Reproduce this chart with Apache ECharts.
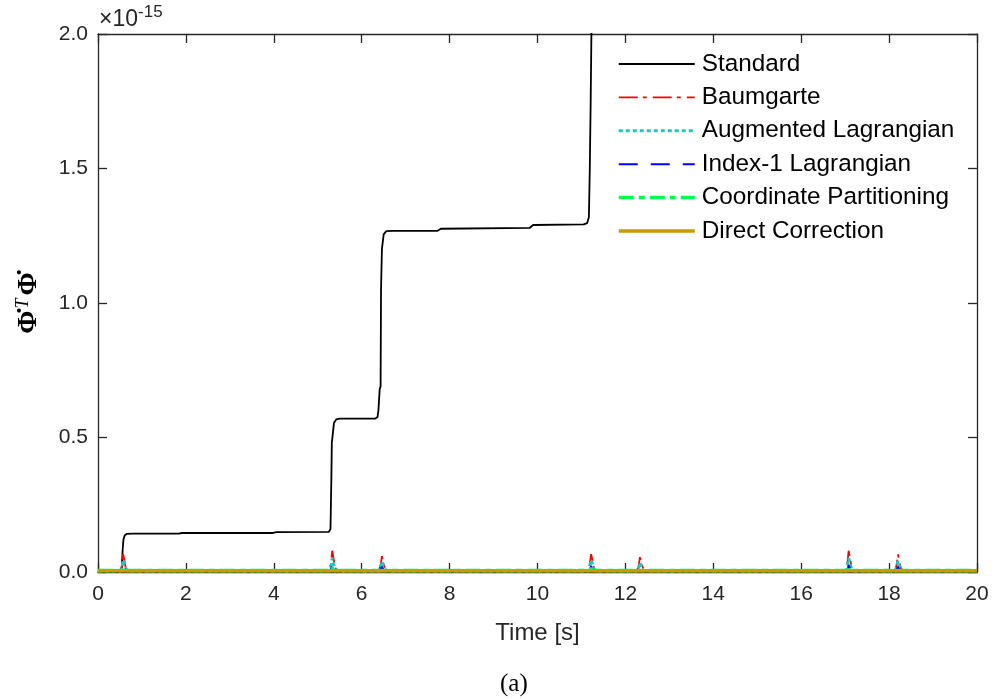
<!DOCTYPE html>
<html>
<head>
<meta charset="utf-8">
<script src="https://cdn.jsdelivr.net/npm/echarts@6/dist/echarts.min.js"></script>
<style>
  html, body { margin: 0; padding: 0; background: #fff; }
  #main { width: 996px; height: 699px; }
</style>
</head>
<body>
<div id="main"></div>
<script>
var myChart = echarts.init(document.getElementById('main'));

// values in units of 1e-15, time in seconds
var seriesNames = ['Standard', 'Baumgarte', 'Augmented Lagrangian', 'Index-1 Lagrangian', 'Coordinate Partitioning', 'Direct Correction'];
var xTicks = [0, 2, 4, 6, 8, 10, 12, 14, 16, 18, 20];
var yTicks = [0.0, 0.5, 1.0, 1.5, 2.0];

var standard = [
    [0, 0], [0.5, 0], [0.54, 0.01], [0.56, 0.08], [0.58, 0.122], [0.61, 0.137], [0.66, 0.142], [0.8, 0.143],
    [1.84, 0.143], [1.87, 0.137], [1.91, 0.145], [1.95, 0.144], [3.98, 0.145], [4.02, 0.149], [4.06, 0.148],
    [5.25, 0.149], [5.29, 0.16], [5.31, 0.35], [5.32, 0.48], [5.34, 0.51], [5.37, 0.555], [5.42, 0.567],
    [5.5, 0.57], [6.3, 0.57], [6.36, 0.576], [6.38, 0.6], [6.41, 0.68], [6.43, 0.69], [6.44, 1.05],
    [6.46, 1.2], [6.5, 1.255], [6.56, 1.267], [6.7, 1.268], [7.72, 1.268], [7.76, 1.263], [7.8, 1.276],
    [9.82, 1.279], [9.86, 1.274], [9.9, 1.29], [11.05, 1.292], [11.13, 1.297], [11.17, 1.32], [11.19, 1.5],
    [11.21, 1.75], [11.23, 2.05], [11.25, 2.3]
];
var baumgarte = [
    [0, 0.004], [0.5, 0.004], [0.54, 0.02], [0.56, 0.05], [0.57, 0.067], [0.6, 0.045], [0.63, 0.015], [0.7, 0.004],
    [5.26, 0.004], [5.3, 0.03], [5.32, 0.065], [5.33, 0.079], [5.36, 0.05], [5.4, 0.015], [5.47, 0.004],
    [6.39, 0.004], [6.43, 0.025], [6.45, 0.048], [6.46, 0.059], [6.49, 0.04], [6.53, 0.012], [6.6, 0.004],
    [11.15, 0.004], [11.19, 0.03], [11.21, 0.055], [11.22, 0.066], [11.25, 0.045], [11.29, 0.012], [11.36, 0.004],
    [12.26, 0.004], [12.3, 0.02], [12.32, 0.043], [12.33, 0.055], [12.36, 0.035], [12.41, 0.01], [12.48, 0.004],
    [17.01, 0.004], [17.05, 0.03], [17.07, 0.065], [17.08, 0.079], [17.11, 0.05], [17.15, 0.015], [17.22, 0.004],
    [18.13, 0.004], [18.17, 0.025], [18.19, 0.053], [18.2, 0.066], [18.23, 0.04], [18.27, 0.012], [18.34, 0.004],
    [20, 0.004]
];
var augmented = [
    [0, 0.004], [0.52, 0.004], [0.55, 0.02], [0.57, 0.045], [0.6, 0.03], [0.64, 0.01], [0.7, 0.004],
    [5.28, 0.004], [5.31, 0.03], [5.33, 0.052], [5.36, 0.032], [5.4, 0.01], [5.47, 0.004],
    [6.41, 0.004], [6.44, 0.025], [6.46, 0.04], [6.49, 0.025], [6.54, 0.008], [6.6, 0.004],
    [11.17, 0.004], [11.2, 0.028], [11.22, 0.045], [11.25, 0.028], [11.29, 0.008], [11.36, 0.004],
    [12.28, 0.004], [12.31, 0.02], [12.33, 0.036], [12.36, 0.02], [12.41, 0.006], [12.48, 0.004],
    [17.03, 0.004], [17.06, 0.032], [17.08, 0.052], [17.11, 0.03], [17.15, 0.01], [17.22, 0.004],
    [18.15, 0.004], [18.18, 0.025], [18.2, 0.042], [18.23, 0.025], [18.28, 0.008], [18.34, 0.004],
    [20, 0.004]
];
var index1 = [
    [0, 0.004], [0.53, 0.004], [0.57, 0.022], [0.6, 0.012], [0.65, 0.004],
    [5.29, 0.004], [5.33, 0.026], [5.36, 0.012], [5.41, 0.004],
    [6.42, 0.004], [6.46, 0.02], [6.49, 0.01], [6.55, 0.004],
    [11.18, 0.004], [11.22, 0.022], [11.25, 0.01], [11.3, 0.004],
    [12.29, 0.004], [12.33, 0.016], [12.36, 0.008], [12.42, 0.004],
    [17.04, 0.004], [17.08, 0.026], [17.11, 0.012], [17.16, 0.004],
    [18.16, 0.004], [18.2, 0.02], [18.23, 0.01], [18.29, 0.004],
    [20, 0.004]
];
var coordPart = [
    [0, 0.006], [0.54, 0.006], [0.57, 0.014], [0.61, 0.006], [5.3, 0.006], [5.33, 0.015], [5.37, 0.006],
    [6.43, 0.006], [6.46, 0.013], [6.5, 0.006], [11.19, 0.006], [11.22, 0.014], [11.26, 0.006],
    [12.3, 0.006], [12.33, 0.012], [12.37, 0.006], [17.05, 0.006], [17.08, 0.015], [17.12, 0.006],
    [18.17, 0.006], [18.2, 0.013], [18.24, 0.006], [20, 0.006]
];
var directCorr = [[0, 0.005], [20, 0.005]];

var seriesData = [standard, baumgarte, augmented, index1, coordPart, directCorr];
var seriesColors = ['#000000', '#ff0000', '#1bc6c6', '#0000ff', '#00ff40', '#cc9900'];
var seriesWidths = [1.8, 1.8, 3, 2, 3.5, 3.5];
var seriesDash = ['solid', [19, 5, 4, 6], [4, 3], [19, 13], [15, 5, 6, 5], 'solid'];

var tickColor = '#262626';
var labelFont = { fontFamily: 'Liberation Sans', fontSize: 21, color: tickColor };

var option = {
    backgroundColor: '#fff',
    animation: false,
    grid: { left: 98, right: 19, top: 34, bottom: 127 },
    legend: {
        orient: 'vertical',
        left: 612,
        top: 47,
        itemWidth: 76,
        itemHeight: 24,
        itemGap: 9.4,
        data: seriesNames,
        itemStyle: { opacity: 0, borderWidth: 0 },
        lineStyle: { width: 'inherit' },
        textStyle: { fontFamily: 'Liberation Sans', fontSize: 24.3, color: '#000', padding: [0, 0, 0, 2] }
    },
    xAxis: [
        {
            type: 'value', min: 0, max: 20, interval: 2,
            name: 'Time [s]', nameLocation: 'middle', nameGap: 49,
            nameTextStyle: { fontFamily: 'Liberation Sans', fontSize: 24, color: tickColor },
            axisLine: { lineStyle: { color: tickColor, width: 1.3 } },
            axisTick: { inside: true, length: 9, lineStyle: { color: tickColor, width: 1.3 } },
            axisLabel: Object.assign({ margin: 12 }, labelFont),
            splitLine: { show: false }
        },
        {
            type: 'value', min: 0, max: 20, interval: 2, position: 'top',
            axisLine: { onZero: false, lineStyle: { color: tickColor, width: 1.3 } },
            axisTick: { inside: true, length: 9, lineStyle: { color: tickColor, width: 1.3 } },
            axisLabel: { show: false },
            splitLine: { show: false }
        }
    ],
    yAxis: [
        {
            type: 'value', min: 0, max: 2, interval: 0.5,
            name: '{b|Φ̇}{s|T}{b|Φ̇}',
            nameLocation: 'middle', nameGap: 54, nameRotate: 90,
            nameTextStyle: {
                rich: {
                    b: { fontFamily: 'Liberation Serif', fontWeight: 'bold', fontSize: 28, color: '#000' },
                    s: { fontFamily: 'Liberation Serif', fontStyle: 'italic', fontSize: 18, color: '#000', padding: [0, 3, 12, 2] }
                }
            },
            axisLine: { lineStyle: { color: tickColor, width: 1.3 } },
            axisTick: { inside: true, length: 9, lineStyle: { color: tickColor, width: 1.3 } },
            axisLabel: Object.assign({ margin: 10, formatter: function (v) { return v.toFixed(1); } }, labelFont),
            splitLine: { show: false }
        },
        {
            type: 'value', min: 0, max: 2, interval: 0.5, position: 'right',
            axisLine: { onZero: false, lineStyle: { color: tickColor, width: 1.3 } },
            axisTick: { inside: true, length: 9, lineStyle: { color: tickColor, width: 1.3 } },
            axisLabel: { show: false },
            splitLine: { show: false }
        }
    ],
    graphic: [
        {
            type: 'text', left: 99, top: 4,
            style: {
                text: '×10{sup|-15}',
                font: '23px "Liberation Sans"',
                fill: tickColor,
                rich: { sup: { fontFamily: 'Liberation Sans', fontSize: 17, fill: tickColor, padding: [0, 0, 14, 0] } }
            }
        },
        {
            type: 'text', left: 500, top: 672,
            style: { text: '(a)', font: '25px "Liberation Serif"', fill: '#000' }
        }
    ],
    series: seriesNames.map(function (name, i) {
        return {
            name: name,
            type: 'line',
            data: seriesData[i],
            symbol: 'none',
            clip: true,
            color: seriesColors[i],
            lineStyle: { color: seriesColors[i], width: seriesWidths[i], type: seriesDash[i] }
        };
    })
};

myChart.setOption(option);
</script>
</body>
</html>
